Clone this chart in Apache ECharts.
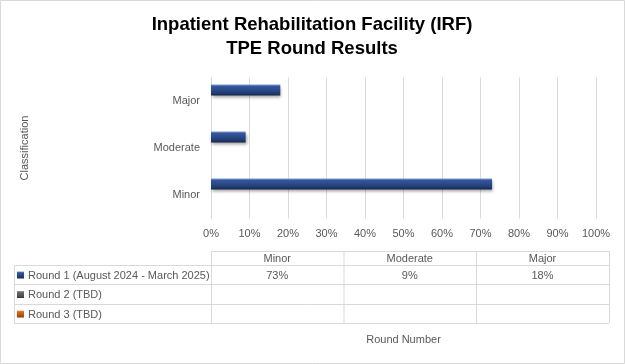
<!DOCTYPE html>
<html>
<head>
<meta charset="utf-8">
<script src="https://cdn.jsdelivr.net/npm/echarts@6/dist/echarts.min.js"></script>
<style>
html,body{margin:0;padding:0;background:#fff;}
#c{width:625px;height:364px;}
</style>
</head>
<body>
<div id="c"></div>
<script>
// ---- data ----
var titleLines = ['Inpatient Rehabilitation Facility (IRF)', 'TPE Round Results'];
var categories = ['Minor', 'Moderate', 'Major'];
var seriesNames = ['Round 1 (August 2024 - March 2025)', 'Round 2 (TBD)', 'Round 3 (TBD)'];
var round1 = [73, 9, 18];
var round2 = [null, null, null];
var round3 = [null, null, null];
var xTicks = [0, 10, 20, 30, 40, 50, 60, 70, 80, 90, 100];
var yAxisTitle = 'Classification';
var xAxisTitle = 'Round Number';

// ---- style ----
var FONT = '"Liberation Sans", Arial, sans-serif';
var TXT = '#595959';
var GRIDC = '#d9d9d9';
var seriesData = [round1, round2, round3];
var seriesColors = [
  ['#7f9bd6', '#34579c', '#2a4a88', '#1e3769', '#132345'],
  ['#a6a6a6', '#6b6b6b', '#595959', '#474747', '#2e2e2e'],
  ['#f4b183', '#d86a1f', '#c55a11', '#a34a0d', '#6f3208']
];
function grad(c) {
  return new echarts.graphic.LinearGradient(0, 0, 0, 1, [
    {offset: 0, color: c[0]}, {offset: 0.18, color: c[1]},
    {offset: 0.5, color: c[2]}, {offset: 0.85, color: c[3]}, {offset: 1, color: c[4]}
  ]);
}

var chart = echarts.init(document.getElementById('c'), null, {renderer: 'canvas'});

// table layout
var tblLeft = 14, tblRight = 609, hdrLeft = 211;
var colEdges = [211, 343.5, 476, 609];
var rowEdges = [251, 265, 284, 304, 323];
var graphics = [];
// outer border
graphics.push({type: 'rect', shape: {x: 0.5, y: 0.5, width: 624, height: 363},
  style: {fill: null, stroke: GRIDC, lineWidth: 1}, silent: true});
// horizontal lines
graphics.push({type: 'line', shape: {x1: hdrLeft, y1: rowEdges[0] + 0.5, x2: tblRight, y2: rowEdges[0] + 0.5},
  style: {stroke: GRIDC, lineWidth: 1}});
for (var r = 1; r < rowEdges.length; r++) {
  graphics.push({type: 'line', shape: {x1: tblLeft, y1: rowEdges[r] + 0.5, x2: tblRight, y2: rowEdges[r] + 0.5},
    style: {stroke: GRIDC, lineWidth: 1}});
}
// vertical lines
graphics.push({type: 'line', shape: {x1: tblLeft + 0.5, y1: rowEdges[1], x2: tblLeft + 0.5, y2: rowEdges[4]},
  style: {stroke: GRIDC, lineWidth: 1}});
colEdges.forEach(function (x) {
  graphics.push({type: 'line', shape: {x1: x + 0.5, y1: rowEdges[0], x2: x + 0.5, y2: rowEdges[4]},
    style: {stroke: GRIDC, lineWidth: 1}});
});
// header texts
categories.forEach(function (cat, i) {
  graphics.push({type: 'text', x: (colEdges[i] + colEdges[i + 1]) / 2, y: (rowEdges[0] + rowEdges[1]) / 2 + 1,
    style: {text: cat, font: '11px ' + FONT, fill: TXT, align: 'center', verticalAlign: 'middle'}});
});
// rows
seriesNames.forEach(function (name, s) {
  var cy = (rowEdges[s + 1] + rowEdges[s + 2]) / 2 + 1;
  graphics.push({type: 'rect', shape: {x: 17, y: cy - 4, width: 7, height: 7},
    style: {fill: grad(seriesColors[s]), stroke: null}});
  graphics.push({type: 'text', x: 28, y: cy,
    style: {text: name, font: '11px ' + FONT, fill: TXT, align: 'left', verticalAlign: 'middle'}});
  seriesData[s].forEach(function (v, i) {
    if (v === null || v === undefined) return;
    graphics.push({type: 'text', x: (colEdges[i] + colEdges[i + 1]) / 2, y: cy,
      style: {text: v + '%', font: '11px ' + FONT, fill: TXT, align: 'center', verticalAlign: 'middle'}});
  });
});
// title
titleLines.forEach(function (t, i) {
  graphics.push({type: 'text', x: 312, y: 25 + i * 24,
    style: {text: t, font: 'bold 18.5px ' + FONT, fill: '#000', align: 'center', verticalAlign: 'middle'}});
});

var option = {
  animation: false,
  backgroundColor: '#fff',
  grid: {left: 211, right: 29, top: 77.5, height: 141, outerBoundsMode: 'none', containLabel: false},
  xAxis: {
    type: 'value', min: xTicks[0], max: xTicks[xTicks.length - 1], interval: xTicks[1] - xTicks[0],
    axisLine: {show: false}, axisTick: {show: false},
    splitLine: {show: true, lineStyle: {color: GRIDC, width: 1}},
    axisLabel: {formatter: '{value}%', color: TXT, fontSize: 11, fontFamily: FONT, margin: 10},
    name: xAxisTitle, nameLocation: 'middle', nameGap: 116,
    nameTextStyle: {color: TXT, fontSize: 11, fontFamily: FONT}
  },
  yAxis: {
    type: 'category', data: categories,
    axisLine: {show: true, lineStyle: {color: GRIDC}}, axisTick: {show: false},
    axisLabel: {color: TXT, fontSize: 11, fontFamily: FONT, margin: 11},
    name: yAxisTitle, nameLocation: 'middle', nameGap: 181, nameRotate: 90,
    nameTextStyle: {color: TXT, fontSize: 11, fontFamily: FONT}
  },
  series: seriesNames.map(function (name, s) {
    return {
      type: 'bar', name: name, data: seriesData[s], barWidth: 11, barGap: '0%',
      itemStyle: {color: grad(seriesColors[s]), shadowColor: 'rgba(0,0,0,0.35)', shadowBlur: 3,
        shadowOffsetX: 1, shadowOffsetY: 2}
    };
  }),
  graphic: graphics
};
chart.setOption(option);
</script>
</body>
</html>
